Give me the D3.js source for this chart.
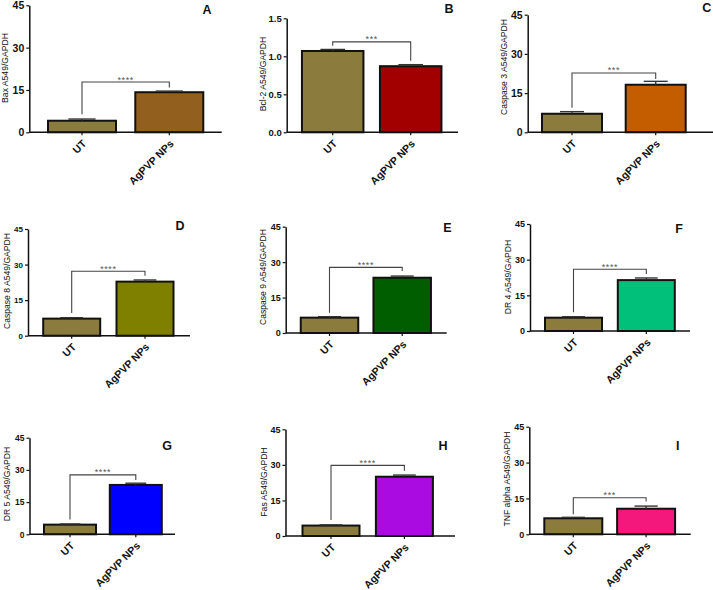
<!DOCTYPE html>
<html><head><meta charset="utf-8">
<script src="https://cdn.jsdelivr.net/npm/d3@7"></script>
<style>
body{margin:0;background:#fff}
svg{display:block;font-family:"Liberation Sans",Arial,sans-serif}
</style>
</head><body>
<svg id="chart" width="713" height="590"></svg>
<script>
// ---------- data ----------
const panelLetters = ["A","B","C","D","E","F","G","H","I"];
const groups = ["UT","AgPVP NPs"];
const yTitles = ["Bax A549/GAPDH","Bcl-2 A549/GAPDH","Caspase 3 A549/GAPDH","Caspase 8 A549/GAPDH","Caspase 9 A549/GAPDH","DR 4 A549/GAPDH","DR 5 A549/GAPDH","Fas A549/GAPDH","TNF alpha A549/GAPDH"];
const utMeans = [4.1, 1.07, 7.1, 7.2, 6.5, 5.6, 4.5, 4.4, 6.7];
const utErr   = [0.6, 0.02, 0.8, 0.4, 0.4, 0.4, 0.3, 0.3, 0.4];
const npMeans = [14.2, 0.87, 18.2, 22.8, 23.4, 21.4, 23.0, 25.0, 10.7];
const npErr   = [0.4, 0.02, 1.3, 0.7, 0.7, 0.9, 0.8, 0.7, 1.1];
const sigStars = ["****","***","***","****","****","****","****","****","***"];
const bracketLevel = [17.8, 1.19, 22.7, 27.2, 27.8, 26.0, 27.7, 29.8, 15.3];
const bracketLeftEnd = [6.4, 1.14, 9.4, 9.6, 8.6, 7.9, 6.9, 6.75, 8.4];
const bracketRightEnd = [15.9, 0.94, 20.4, 25.3, 26.2, 24.0, 25.3, 27.5, 13.7];
const yMax = [45, 1.5, 45, 45, 45, 45, 45, 45, 45];
const yTicks45 = [0, 15, 30, 45];
const yTicksB = [0, 0.5, 1.0, 1.5];
const yTickLabels45 = ["0","15","30","45"];
const yTickLabelsB = ["0.0","0.5","1.0","1.5"];

// ---------- styles ----------
const utColor = "#8B7B3C";
const npColors = ["#935F1F","#A20000","#C45C00","#7F7F00","#005E00","#00C07A","#0000FF","#A90BE0","#F4177C"];

// ---------- layout (pixels) ----------
const layout = [
  {ax:29.3, axEnd:221.7, top:5.3,  bottom:132.3, c1:82,    c2:169.3, w:68,  tf:10.5, tx:5,     ty:68,  lx:207,   ly:10},
  {ax:286.7,axEnd:458,   top:18.3, bottom:132.3, c1:332.7, c2:410.7, w:61.5,tf:9.5,  tx:262.7, ty:74,  lx:449,   ly:9},
  {ax:527.7,axEnd:713,   top:14.7, bottom:132.3, c1:572,   c2:655.7, w:60,  tf:10.5, tx:504,   ty:67,  lx:706.7, ly:8},
  {ax:28,   axEnd:190,   top:229,  bottom:335.7, c1:71.7,  c2:145,   w:57,  tf:8,    tx:6.7,   ty:281, lx:180,   ly:226},
  {ax:285.7,axEnd:446.7, top:226.7,bottom:333,   c1:329.5, c2:402.2, w:57.5,tf:9,    tx:263,   ty:277, lx:447.3, ly:228.3},
  {ax:530,  axEnd:690,   top:224,  bottom:331,   c1:573.5, c2:646.3, w:57,  tf:9,    tx:508,   ty:277, lx:679,   ly:229.3},
  {ax:29.5, axEnd:175,   top:437.7,bottom:534.3, c1:70,    c2:135.8, w:52,  tf:8.5,  tx:7.3,   ty:484, lx:167,   ly:446},
  {ax:285.5,axEnd:455,   top:429.3,bottom:536,   c1:331,   c2:404.4, w:57,  tf:9,    tx:264,   ty:482, lx:443,   ly:446},
  {ax:529.3,axEnd:690.7, top:426.7,bottom:534.3, c1:573.3, c2:646.1, w:58,  tf:9,    tx:506.7, ty:479, lx:677.7, ly:445.7}
];

const svg = d3.select("#chart");

panelLetters.forEach((letter, i) => {
  const L = layout[i];
  const g = svg.append("g");
  const isB = yMax[i] !== 45;
  const ticks = isB ? yTicksB : yTicks45;
  const tickLabels = isB ? yTickLabelsB : yTickLabels45;

  const y = d3.scaleLinear().domain([0, yMax[i]]).range([L.bottom, L.top]);
  const step = L.c2 - L.c1;
  const pi = 1 - L.w / step;
  const x = d3.scaleBand().domain(groups)
    .range([L.c1 - step / 2, L.c2 + step / 2])
    .paddingInner(pi).paddingOuter(pi / 2);

  const means = [utMeans[i], npMeans[i]];
  const errs = [utErr[i], npErr[i]];
  const colors = [utColor, npColors[i]];

  // bars
  g.selectAll("rect.bar").data(groups).enter().append("rect")
    .attr("x", d => x(d))
    .attr("width", x.bandwidth())
    .attr("y", (d, j) => y(means[j]))
    .attr("height", (d, j) => y(0) - y(means[j]))
    .attr("fill", (d, j) => colors[j])
    .attr("stroke", "#111")
    .attr("stroke-width", 2);

  // error bars (upper)
  groups.forEach((d, j) => {
    const cx = x(d) + x.bandwidth() / 2;
    const hw = x.bandwidth() * 0.2;
    g.append("line").attr("x1", cx).attr("x2", cx)
      .attr("y1", y(means[j])).attr("y2", y(means[j] + errs[j]))
      .attr("stroke", "#333").attr("stroke-width", 1.4);
    g.append("line").attr("x1", cx - hw).attr("x2", cx + hw)
      .attr("y1", y(means[j] + errs[j])).attr("y2", y(means[j] + errs[j]))
      .attr("stroke", "#333").attr("stroke-width", 1.4);
  });

  // y axis
  const yAxis = d3.axisLeft(y).tickValues(ticks)
    .tickFormat((d, k) => tickLabels[k]).tickSize(3).tickPadding(2).tickSizeOuter(0);
  const ya = g.append("g").attr("transform", `translate(${L.ax},0)`).call(yAxis);
  ya.select(".domain").attr("stroke", "#111").attr("stroke-width", 1.5);
  ya.selectAll(".tick line").attr("stroke", "#111").attr("stroke-width", 1.2);
  ya.selectAll(".tick text").attr("font-size", L.tf).attr("font-weight", "bold")
    .attr("fill", "#111").attr("font-family", "Liberation Sans, Arial, sans-serif");

  // x axis line
  g.append("line").attr("x1", L.ax).attr("x2", L.axEnd)
    .attr("y1", L.bottom).attr("y2", L.bottom)
    .attr("stroke", "#111").attr("stroke-width", 1.5);
  const xAxis = d3.axisBottom(x).tickSize(3).tickSizeOuter(0).tickPadding(0);
  const xa = g.append("g").attr("transform", `translate(0,${L.bottom})`).call(xAxis);
  xa.select(".domain").remove();
  xa.selectAll(".tick line").attr("stroke", "#111").attr("stroke-width", 1.2);
  xa.selectAll(".tick text")
    .attr("font-size", 10.5).attr("font-weight", "bold").attr("fill", "#111")
    .attr("font-family", "Liberation Sans, Arial, sans-serif")
    .attr("text-anchor", "end")
    .attr("y", 0).attr("dy", 0)
    .attr("transform", "translate(5,12) rotate(-45)");

  // significance bracket
  const bx1 = L.c1, bx2 = L.c2;
  const by = y(bracketLevel[i]);
  g.append("path")
    .attr("d", `M${bx1},${y(bracketLeftEnd[i])}V${by}H${bx2}V${y(bracketRightEnd[i])}`)
    .attr("fill", "none").attr("stroke", "#444").attr("stroke-width", 1.1);
  g.append("text").attr("x", (bx1 + bx2) / 2).attr("y", by + 0.5)
    .attr("text-anchor", "middle").attr("font-size", 9).attr("fill", "#555")
    .attr("letter-spacing", 0.6)
    .text(sigStars[i]);

  // y title
  g.append("text")
    .attr("transform", `translate(${L.tx},${L.ty}) rotate(-90)`)
    .attr("text-anchor", "middle").attr("dominant-baseline", "central")
    .attr("font-size", 8.6).attr("fill", "#111")
    .text(yTitles[i]);

  // panel letter
  g.append("text").attr("x", L.lx).attr("y", L.ly)
    .attr("text-anchor", "middle").attr("dominant-baseline", "central")
    .attr("font-size", 12.5).attr("font-weight", "bold").attr("fill", "#111")
    .text(letter);
});
</script>
</body></html>
